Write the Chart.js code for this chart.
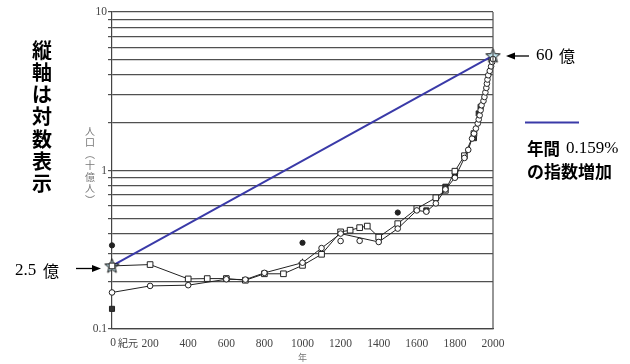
<!DOCTYPE html>
<html><head><meta charset="utf-8">
<script src="https://cdn.jsdelivr.net/npm/chart.js@4.4.0/dist/chart.umd.min.js"></script>
<style>html,body{margin:0;padding:0;background:#fff}#wrap{width:630px;height:364px;position:relative}</style>
</head><body><div id="wrap"><canvas id="c" width="630" height="364"></canvas></div>
<script>
// ---- data (population, billions) ----
const sqYears = [0,200,400,500,600,700,800,900,1000,1100,1200,1250,1300,1340,1400,1500,1600,1700,1750,1800,1850,1900];
const sqPop   = [0.25,0.255,0.207,0.208,0.208,0.203,0.223,0.223,0.252,0.296,0.41,0.42,0.436,0.446,0.38,0.462,0.575,0.673,0.75,0.99,1.24,1.71];

const ciYears = [0,200,400,600,700,800,1000,1100,1200,1400,1500,1600,1650,1700,1750,1800,1850,1870,1890,1900,1910,1920,1925,1930,1935,1940,1950,1955,1960,1965,1968,1971,1975,1983,1990,1996,2000];
const ciPop   = [0.17,0.187,0.189,0.206,0.205,0.226,0.262,0.324,0.40,0.354,0.43,0.56,0.55,0.62,0.76,0.9,1.2,1.35,1.59,1.71,1.84,1.98,2.10,2.23,2.40,2.58,2.75,2.91,3.11,3.32,3.53,3.75,3.99,4.25,4.54,4.84,5.05];

const isoCiYears = [1200,1300];
const isoCiPop   = [0.359,0.36];

const dotYears = [0,1000,1500];
const dotPop   = [0.337,0.35,0.543];

const fsqYears = [0,600,1650,1750,1800,1900,1925,1935];
const fsqPop   = [0.134,0.208,0.56,0.79,0.94,1.6,2.29,2.52];

const plusYears = [1000];
const plusPop   = [0.262];

const expYears = [0,2000];
const expPop   = [0.25,5.3];

const xTickStep = 200;
const yTickVals = [0.1,0.2,0.3,0.4,0.5,0.6,0.7,0.8,0.9,1,2,3,4,5,6,7,8,9,10];
const yLabelVals = [0.1,1,10];

const pts = (xs,ys) => xs.map((x,i)=>({x, y:ys[i]}));

function makeStar(){
  const c=document.createElement('canvas'); c.width=17; c.height=17;
  const g=c.getContext('2d'); const cx=8.5, cy=9, R=7.5, r=3.2;
  g.beginPath();
  for(let i=0;i<10;i++){const a=-Math.PI/2+i*Math.PI/5; const rad=i%2?r:R; g.lineTo(cx+rad*Math.cos(a), cy+rad*Math.sin(a));}
  g.closePath(); g.fillStyle='#c4e8f2'; g.fill(); g.strokeStyle='#111'; g.lineWidth=1; g.stroke();
  return c;
}
const starImg = makeStar();

const serif = '"Liberation Serif", "DejaVu Serif", serif';
const cjk = '"Noto Sans CJK JP", sans-serif';

const annot = {
  id:'annot',
  afterDraw(chart){
    const ctx=chart.ctx, a=chart.chartArea, xs=chart.scales.x;
    ctx.save();
    // right border
    ctx.strokeStyle='#505050'; ctx.lineWidth=1.2;
    ctx.beginPath(); ctx.moveTo(a.right, a.top); ctx.lineTo(a.right, a.bottom); ctx.stroke();
    // "0 紀元"
    const x0 = xs.getPixelForValue(0);
    ctx.fillStyle='#444'; ctx.textBaseline='middle';
    ctx.font='11.5px '+serif; ctx.textAlign='center'; ctx.fillText('0', x0+1, 343);
    ctx.font='10px '+cjk; ctx.textAlign='left'; ctx.fillText('紀元', x0+6, 343);
    // vertical big label
    ctx.fillStyle='#000'; ctx.textAlign='center'; ctx.font='bold 20px '+cjk;
    [...'縦軸は対数表示'].forEach((ch,i)=>ctx.fillText(ch, 42, 50+i*22.3));
    // y title
    ctx.fillStyle='#777'; ctx.font='10px '+cjk;
    [...'人口︵十億人︶'].forEach((ch,i)=>ctx.fillText(ch, 90, 131+i*11.5));
    // legend
    ctx.strokeStyle='#3a3aa8'; ctx.lineWidth=2;
    ctx.beginPath(); ctx.moveTo(525,122.5); ctx.lineTo(579,122.5); ctx.stroke();
    ctx.fillStyle='#000'; ctx.textAlign='left';
    ctx.font='bold 16.5px '+cjk; ctx.fillText('年間', 527, 149);
    ctx.font='17px '+serif; ctx.fillText('0.159%', 566, 149);
    ctx.font='bold 17px '+cjk; ctx.fillText('の指数増加', 527, 171.5);
    // 60 億 annotation
    ctx.font='17px '+serif; ctx.fillText('60', 536, 56);
    ctx.font='16px '+cjk; ctx.fillText('億', 559, 56);
    arrow(ctx, 529, 56, 506, 56);
    // 2.5 億 annotation
    ctx.font='17px '+serif; ctx.fillText('2.5', 15, 270.5);
    ctx.font='16px '+cjk; ctx.fillText('億', 43, 270.5);
    arrow(ctx, 76, 268.5, 101, 268.5);
    ctx.restore();
  }
};
function arrow(ctx,x1,y1,x2,y2){
  const dir = Math.sign(x2-x1);
  ctx.strokeStyle='#000'; ctx.fillStyle='#000'; ctx.lineWidth=1.3;
  ctx.beginPath(); ctx.moveTo(x1,y1); ctx.lineTo(x2-dir*6,y2); ctx.stroke();
  ctx.beginPath(); ctx.moveTo(x2,y2); ctx.lineTo(x2-dir*9,y2-3.5); ctx.lineTo(x2-dir*9,y2+3.5); ctx.closePath(); ctx.fill();
}

new Chart(document.getElementById('c'), {
  type:'scatter',
  data:{datasets:[
    {data:pts(ciYears,ciPop), showLine:true, clip:false, borderColor:'#222', borderWidth:1, pointStyle:'circle', pointRadius:2.8, pointBackgroundColor:'#fff', pointBorderColor:'#222', pointBorderWidth:1},
    {data:pts(sqYears,sqPop), showLine:true, clip:false, borderColor:'#222', borderWidth:1, pointStyle:'rect', pointRadius:4, pointBackgroundColor:'#fff', pointBorderColor:'#222', pointBorderWidth:1},
    {data:pts(isoCiYears,isoCiPop), showLine:false, pointStyle:'circle', pointRadius:2.8, pointBackgroundColor:'#fff', pointBorderColor:'#222', pointBorderWidth:1},
    {data:pts(fsqYears,fsqPop), showLine:false, clip:false, pointStyle:'rect', pointRadius:3.6, pointBackgroundColor:'#333', pointBorderColor:'#222', pointBorderWidth:1},
    {data:pts(dotYears,dotPop), showLine:false, clip:false, pointStyle:'circle', pointRadius:2.6, pointBackgroundColor:'#222', pointBorderColor:'#222', pointBorderWidth:1},
    {data:pts(plusYears,plusPop), showLine:false, pointStyle:'cross', pointRadius:4, pointBorderColor:'#222', pointBorderWidth:1},
    {data:pts(expYears,expPop), showLine:true, clip:false, borderColor:'#3a3aa8', borderWidth:2, pointStyle:starImg, pointRadius:8}
  ]},
  options:{
    responsive:false, animation:false,
    layout:{padding:{left:0,right:137,top:12,bottom:0}},
    plugins:{legend:{display:false}, tooltip:{enabled:false}},
    scales:{
      x:{type:'linear', min:0, max:2000,
        ticks:{stepSize:xTickStep, autoSkip:false, maxRotation:0, padding:8, color:'#444', font:{family:serif, size:11.5}, callback:v=> v===0 ? '' : String(v)},
        grid:{display:false, drawTicks:false}, border:{display:true, color:'#444', width:1.2},
        title:{display:true, text:'年', color:'#777', font:{family:cjk, size:9}, padding:{top:0,bottom:1}},
        afterFit:s=>{s.height=35;}
      },
      y:{type:'logarithmic', min:0.1, max:10,
        afterBuildTicks:s=>{s.ticks = yTickVals.map(v=>({value:v}));},
        ticks:{autoSkip:false, padding:1, color:'#444', font:{family:serif, size:11.5},
          callback:v=> yLabelVals.some(l=>Math.abs(l-v)<1e-9) ? String(v) : ''},
        grid:{color:'#505050', lineWidth:1.2, tickLength:4, drawTicks:true},
        border:{color:'#444', width:1.2},
        afterFit:s=>{s.width=112;}
      }
    }
  },
  plugins:[annot]
});
</script>
</body></html>
